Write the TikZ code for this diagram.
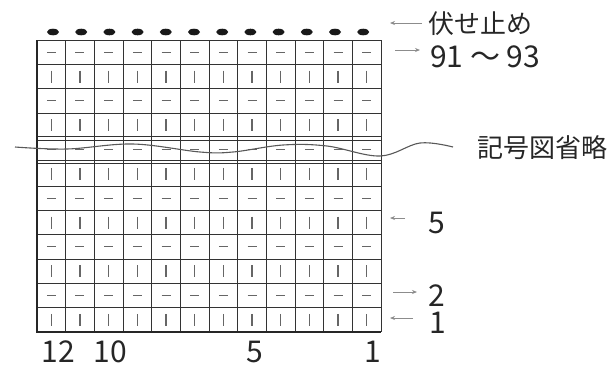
\documentclass[tikz,border=0pt]{standalone}
\usepackage{fontspec}
\setmainfont{Noto Sans CJK JP}
\usetikzlibrary{arrows.meta}
\begin{document}
\begin{tikzpicture}[x=1pt,y=-1pt,
  gridline/.style={draw=black!80,line width=1pt},
  border/.style={draw=black!85,line width=2pt},
  markline/.style={draw=black!60,line width=1.1pt},
  dotc/.style={fill=black!90},
  wave/.style={draw=black!65,line width=1.1pt},
  pointer/.style={draw=black!45,line width=0.8pt,-{Stealth[length=5pt,width=4pt]}},
  lbl/.style={inner sep=0pt,text=black!85,font=\fontsize{26}{26}\selectfont},
  num/.style={inner sep=0pt,text=black!85,font=\fontsize{30}{30}\selectfont},
  colnum/.style={num,anchor=base,text depth=0pt,text height=20pt}]
\useasboundingbox (0,0) rectangle (610,368);
% grid verticals
\foreach \i in {0,...,12}
  \draw[gridline] ({37+\i*28.667},40) -- ({37+\i*28.667},332);
% grid horizontals
\foreach \j in {0,1,2,3,6,7,8,9,10,11,12}
  \draw[gridline] (37,{40+\j*24.333}) -- (381,{40+\j*24.333});
\draw[gridline] (37,136) -- (381,136);
\draw[gridline] (37,140) -- (381,140);
\draw[gridline] (37,160.5) -- (381,160.5);
\draw[gridline] (37,163.5) -- (381,163.5);
% outer border
\draw[border] (37,40) -- (37,332) -- (381,332);
% cell marks
\foreach \r in {0,...,11}{
  \foreach \c in {0,...,11}{
    \pgfmathsetmacro{\cx}{51.33+\c*28.667}
    \pgfmathsetmacro{\cy}{40+(\r+0.5)*24.333}
    \ifodd\r
      \draw[markline] (\cx,\cy-6) -- (\cx,\cy+6);
    \else
      \draw[markline] (\cx-4.5,\cy) -- (\cx+4.5,\cy);
    \fi
  }
}
% bind-off dots
\foreach \c in {0,...,11}
  \fill[dotc] ({53+\c*28.2},32) ellipse [x radius=6pt, y radius=3.3pt];
% wave
\draw[wave] plot[smooth,tension=0.6] coordinates {(15,147) (67,149) (133,144) (200,152) (233,152) (283,145) (327,146) (380,156) (420,143) (453,147)};
% labels
\node[lbl,anchor=west] (fuse) at (428,24) {伏せ止め};
\node[num,anchor=west] (r91) at (430,57) {91 ～ 93};
\node[lbl,anchor=west] (omit) at (477,148) {記号図省略};
\node[num,anchor=west] (r5) at (428,223) {5};
\node[num,anchor=west] (r2) at (428,296) {2};
\node[num,anchor=west] (r1) at (429,323) {1};
\node[colnum] (c12) at (58,362) {12};
\node[colnum] (c10) at (110,362) {10};
\node[colnum] (c5) at (255,362) {5};
\node[colnum] (c1) at (373,362) {1};
% arrows
\coordinate (a1s) at (422,23); \coordinate (a1e) at (390,23);
\coordinate (a2s) at (395,50); \coordinate (a2e) at (420,50);
\coordinate (a3s) at (405,218); \coordinate (a3e) at (390,218);
\coordinate (a4s) at (393,292); \coordinate (a4e) at (417,292);
\coordinate (a5s) at (413,318); \coordinate (a5e) at (390,318);
\draw[pointer] (a1s) -- (a1e);
\draw[pointer] (a2s) -- (a2e);
\draw[pointer] (a3s) -- (a3e);
\draw[pointer] (a4s) -- (a4e);
\draw[pointer] (a5s) -- (a5e);
\end{tikzpicture}
\end{document}
